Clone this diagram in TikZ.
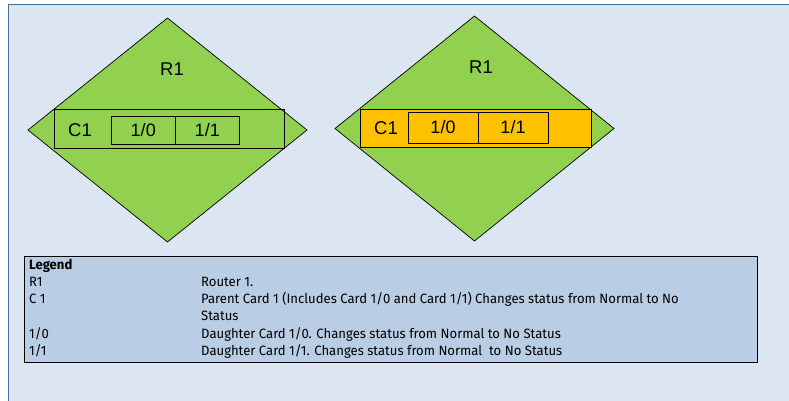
\documentclass[tikz,border=0pt]{standalone}
\usepackage{fontspec}
\setmainfont{Liberation Sans}
\newfontfamily\legendfont[FakeStretch=0.97]{Fira Sans}
\usetikzlibrary{shapes.geometric,positioning}

\definecolor{bgblue}{HTML}{DCE6F2}
\definecolor{frameblue}{HTML}{4A6C9B}
\definecolor{routergreen}{HTML}{92D050}
\definecolor{cardorange}{HTML}{FFC000}
\definecolor{legendblue}{HTML}{B9CDE5}

\tikzset{
  router/.style={diamond, draw, fill=routergreen, line width=0.7pt, inner sep=0pt, outer sep=0pt,
    minimum width=279pt},
  card/.style={rectangle, draw, line width=0.9pt, inner sep=0pt, outer sep=0pt, minimum height=38pt},
  subcard/.style={rectangle, draw, line width=0.9pt, inner sep=0pt, outer sep=0pt,
    font=\fontsize{18}{18}\selectfont},
  lbl/.style={inner sep=0pt, font=\fontsize{18.5}{20}\selectfont},
  legtext/.style={anchor=base west, inner sep=0pt, font=\legendfont\fontsize{13.5}{15}\selectfont}
}

\begin{document}
\begin{tikzpicture}[x=1pt,y=-1pt]
  \useasboundingbox (0,0) rectangle (789,400);
  \fill[white] (0,0) rectangle (789,400);
  % frame
  \fill[bgblue] (8.5,4.5) rectangle (800,410);
  \draw[frameblue, line width=1.5pt] (800,4.5) -- (8.5,4.5) -- (8.5,410);

  % router on the left, card normal
  \node[router, minimum height=224pt] (r1a) at (167.5,130) {};
  \node[lbl] (r1alabel) at (172,69) {R1};
  \node[card, minimum width=230pt, minimum height=39pt] (c1a) at (169,128.5) {};
  \node[lbl] (c1alabel) at (80,130) {C1};
  \node[subcard, minimum width=64.5pt, minimum height=28pt] (p10a) at (143.25,130) {1/0};
  \node[subcard, minimum width=63.5pt, minimum height=28pt, right=0pt of p10a] (p11a) {1/1};

  % router on the right, card changed
  \node[router, minimum height=225pt] (r1b) at (474.5,128.5) {};
  \node[lbl] (r1blabel) at (481,67) {R1};
  \node[card, fill=cardorange, minimum width=231pt] (c1b) at (475.5,128) {};
  \node[lbl] (c1blabel) at (386,128) {C1};
  \node[subcard, minimum width=70pt, minimum height=31pt] (p10b) at (443,127.5) {1/0};
  \node[subcard, minimum width=70pt, minimum height=31pt, right=0pt of p10b] (p11b) {1/1};

  % legend
  \node[rectangle, draw, fill=legendblue, line width=1pt, inner sep=0pt,
    minimum width=733pt, minimum height=106pt] (legend) at (390.5,309) {};
  \node[legtext, font=\legendfont\bfseries\fontsize{13.5}{15}\selectfont] (legtitle) at (29,269) {Legend};
  \node[legtext] (k1) at (29,286) {R1};
  \node[legtext] (v1) at (201,286) {Router 1.};
  \node[legtext] (k2) at (29,303) {C 1};
  \node[legtext] (v2) at (201,303) {Parent Card 1 (Includes Card 1/0 and Card 1/1) Changes status from Normal to No};
  \node[legtext] (v2b) at (201,320) {Status};
  \node[legtext] (k3) at (29,338) {1/0};
  \node[legtext] (v3) at (201,338) {Daughter Card 1/0. Changes status from Normal to No Status};
  \node[legtext] (k4) at (29,355) {1/1};
  \node[legtext] (v4) at (201,355) {Daughter Card 1/1. Changes status from Normal~ to No Status};
\end{tikzpicture}
\end{document}
